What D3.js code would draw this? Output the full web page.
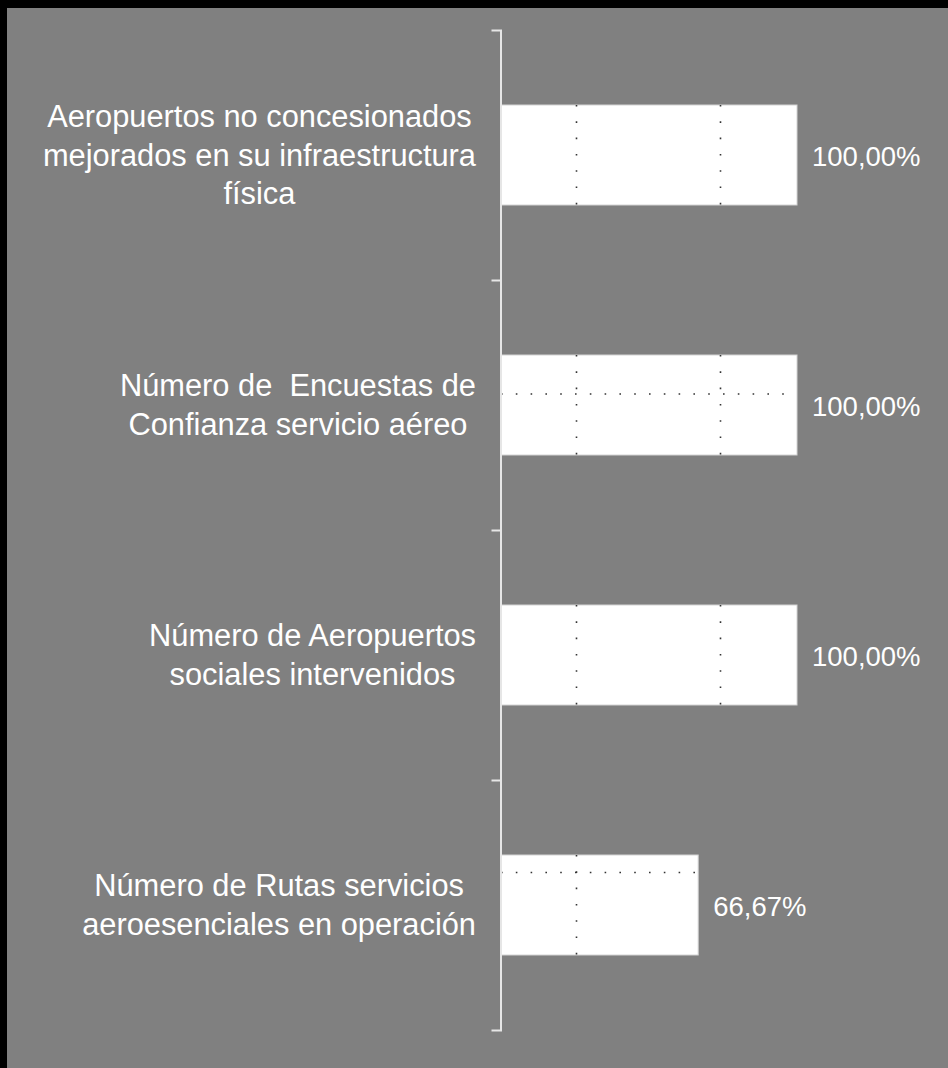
<!DOCTYPE html>
<html>
<head>
<meta charset="utf-8">
<script src="https://cdn.jsdelivr.net/npm/d3@7/dist/d3.min.js"></script>
<style>
  html, body { margin: 0; padding: 0; background: #000; }
  svg { display: block; }
  text { font-family: "Liberation Sans", Arial, sans-serif; }
</style>
</head>
<body>
<svg id="chart" width="948" height="1068"></svg>
<script>
// ---- data ----
const categories = [
  ["Aeropuertos no concesionados", "mejorados en su infraestructura", "física"],
  ["Número de  Encuestas de", "Confianza servicio aéreo"],
  ["Número de Aeropuertos", "sociales intervenidos"],
  ["Número de Rutas servicios", "aeroesenciales en operación"]
];
const values = [100.00, 100.00, 100.00, 66.67];
const valueLabels = ["100,00%", "100,00%", "100,00%", "66,67%"];
const gridValues = [25.5, 74];          // dotted vertical gridlines (percent)
const hLineFractions = [null, 0.39, null, 0.175]; // dotted horizontal line inside bar (fraction of bar height)

// ---- layout ----
const svg = d3.select("#chart");
const W = 948, H = 1068;
svg.append("rect").attr("x", 7).attr("y", 8).attr("width", W - 7).attr("height", H - 8).attr("fill", "#808080");

const ids = categories.map((d, i) => i);
const y = d3.scaleBand().domain(ids).range([30, 1030]).paddingInner(0.6).paddingOuter(0.3);
const x = d3.scaleLinear().domain([0, 100]).range([500.5, 797]);
const yIdx = d3.scaleLinear().domain([0, ids.length]).range([30, 1030]);

// bars
const g = svg.append("g");
const bars = g.selectAll("g.bar").data(ids).enter().append("g").attr("class", "bar");
bars.append("rect")
  .attr("x", x(0))
  .attr("y", i => y(i))
  .attr("width", i => x(values[i]) - x(0))
  .attr("height", y.bandwidth())
  .attr("fill", "#ffffff")
  .attr("stroke", "#d4d4d4")
  .attr("stroke-width", 1);

// clip paths for gridlines within each bar
const defs = svg.append("defs");
ids.forEach(i => {
  defs.append("clipPath").attr("id", "clip" + i)
    .append("rect")
    .attr("x", x(0)).attr("y", y(i) - 1)
    .attr("width", x(values[i]) - x(0)).attr("height", y.bandwidth() + 2);
});

ids.forEach(i => {
  const gg = g.append("g").attr("clip-path", `url(#clip${i})`);
  gg.selectAll("line.vg").data(gridValues).enter().append("line")
    .attr("x1", d => Math.round(x(d)) + 0.5).attr("x2", d => Math.round(x(d)) + 0.5)
    .attr("y1", y(i)).attr("y2", y(i) + y.bandwidth() + 1)
    .attr("stroke", "#333").attr("stroke-width", 1.6)
    .attr("stroke-dasharray", "1.6 14.7");
  if (hLineFractions[i] != null) {
    const yy = y(i) + y.bandwidth() * hLineFractions[i];
    gg.append("line")
      .attr("x1", x(0) + 0.5).attr("x2", x(values[i]))
      .attr("y1", yy).attr("y2", yy)
      .attr("stroke", "#333").attr("stroke-width", 1.6)
      .attr("stroke-dasharray", "1.6 13.2");
  }
});

// axis
const axis = d3.axisLeft(yIdx).tickValues([1, 2, 3]).tickSize(9).tickSizeOuter(9).tickFormat("");
const ag = svg.append("g").attr("transform", `translate(${x(0)},0)`).call(axis);
ag.select(".domain").attr("stroke", "#e6e6e6").attr("stroke-width", 2);
ag.selectAll(".tick line").attr("stroke", "#e6e6e6").attr("stroke-width", 2);

// category labels (block right-aligned, lines centered within block)
const fontSize = 30.8, lineH = 38.5;
const labelRight = 476;
ids.forEach(i => {
  const lines = categories[i];
  const cy = y(i) + y.bandwidth() / 2;
  const t = svg.append("text")
    .attr("fill", "#ffffff")
    .attr("font-size", fontSize)
    .attr("text-anchor", "middle")
    .style("white-space", "pre");
  const tspans = lines.map((ln, k) => t.append("tspan")
    .attr("y", cy + 10.5 + (k - (lines.length - 1) / 2) * lineH)
    .text(ln));
  const widths = tspans.map(s => s.node().getComputedTextLength());
  const maxW = d3.max(widths);
  tspans.forEach(s => s.attr("x", labelRight - maxW / 2));
});

// value labels
svg.selectAll("text.val").data(ids).enter().append("text")
  .attr("class", "val")
  .attr("x", i => x(values[i]) + 15)
  .attr("y", i => y(i) + y.bandwidth() / 2 + 10.5)
  .attr("fill", "#ffffff")
  .attr("font-size", 27.5)
  .text(i => valueLabels[i]);
</script>
</body>
</html>
